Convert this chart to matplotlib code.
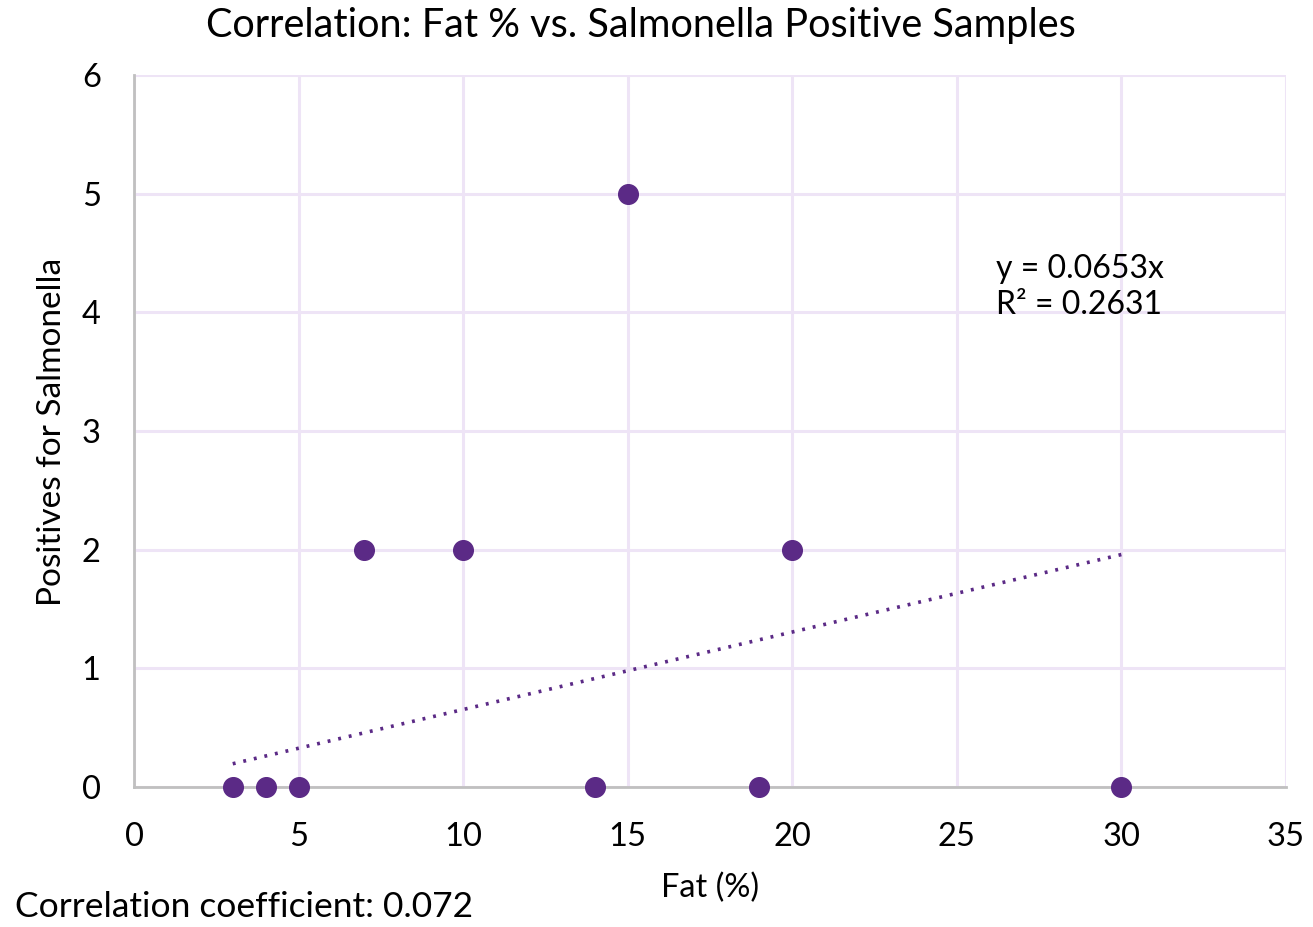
import matplotlib
matplotlib.use("Agg")
import matplotlib.pyplot as plt
import numpy as np

fat = [3, 4, 5, 7, 10, 14, 15, 19, 20, 30]
positives = [0, 0, 0, 2, 2, 0, 5, 0, 2, 0]
slope = 0.0653
r2 = 0.2631
corr = 0.072
xticks = [0, 5, 10, 15, 20, 25, 30, 35]
yticks = [0, 1, 2, 3, 4, 5, 6]

plt.rcParams['font.family'] = ['Lato', 'DejaVu Sans']
purple = '#5B2A86'
grid_c = '#EEE4F6'

fig = plt.figure(figsize=(13.13, 9.27), dpi=100)
ax = fig.add_axes([134/1313, 1-787/927, (1286-134)/1313, (787-75)/927])

ax.set_xlim(0, 35)
ax.set_ylim(0, 6)
ax.set_xticks(xticks)
ax.set_yticks(yticks)
ax.grid(True, color=grid_c, linewidth=2.2)
ax.set_axisbelow(True)
for s in ['top', 'right']:
    ax.spines[s].set_visible(False)
ax.spines['left'].set_color('#C0C0C0')
ax.spines['bottom'].set_color('#C0C0C0')
ax.spines['left'].set_linewidth(2)
ax.spines['bottom'].set_linewidth(2)
ax.tick_params(length=0, labelsize=23.5, colors='black')
ax.tick_params(axis='x', pad=25)
ax.tick_params(axis='y', pad=24)

xs = np.array([min(fat), max(fat)])
ax.plot(xs, slope*xs, linestyle=(0, (0.8, 2.2)), color=purple, linewidth=2.6, zorder=2)
ax.scatter(fat, positives, s=200, color=purple, zorder=3, clip_on=False)

ax.text(26.2, 4.21, f"y = {slope}x\nR² = {r2}", fontsize=23, va='center', ha='left', linespacing=1.25)

fig.text(641/1313, 1-25/927, "Correlation: Fat % vs. Salmonella Positive Samples", fontsize=28.5, ha='center', va='center')
fig.text(710/1313, 1-888/927, "Fat (%)", fontsize=23.5, ha='center', va='center')
fig.text(52/1313, 1-432/927, "Positives for Salmonella", fontsize=24, ha='center', va='center', rotation=90)
fig.text(15/1313, 1-907/927, f"Correlation coefficient: {corr}", fontsize=25.5, ha='left', va='center')

fig.savefig("out.png", dpi=100)
